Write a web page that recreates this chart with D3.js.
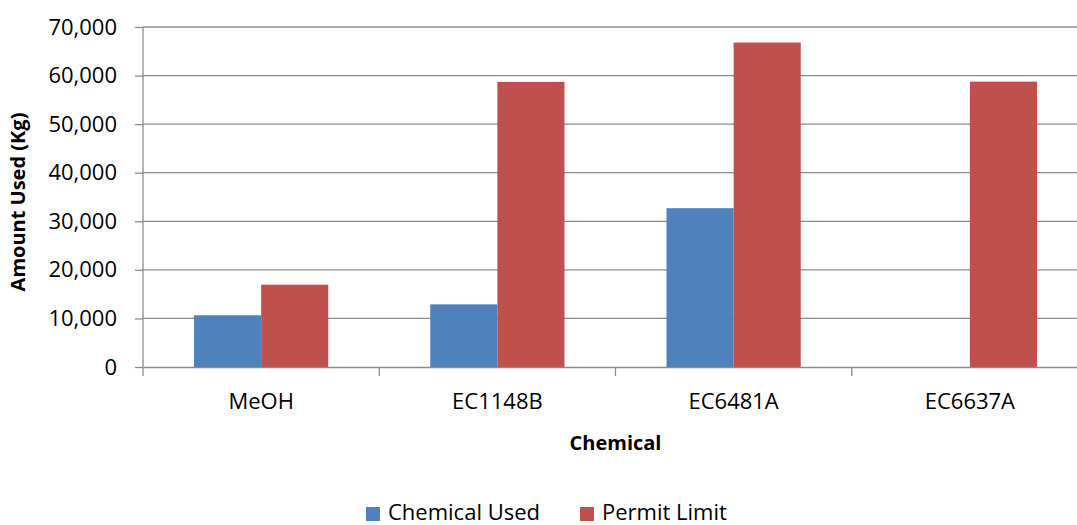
<!DOCTYPE html>
<html>
<head>
<meta charset="utf-8">
<script src="https://cdn.jsdelivr.net/npm/d3@7"></script>
<style>
  body { margin: 0; background: #fff; }
  svg { font-family: "Open Sans", sans-serif; display: block; }
</style>
</head>
<body>
<div id="chart"></div>
<script>
// chart values
const categories = ["MeOH", "EC1148B", "EC6481A", "EC6637A"];
const seriesNames = ["Chemical Used", "Permit Limit"];
const chemicalUsed = [10650, 12900, 32700, 0];
const permitLimit = [16950, 58700, 66800, 58750];
const yTicks = [0, 10000, 20000, 30000, 40000, 50000, 60000, 70000];
const colors = ["#4F81BD", "#C0504D"];

const data = categories.map((c, i) => ({
    category: c,
    values: [chemicalUsed[i], permitLimit[i]]
}));

// layout
const margin = {top: 27, left: 143};
const width = 945;   // plot runs a little past the right edge, like the original
const height = 340;

const svg = d3.select("#chart").append("svg")
    .attr("width", 1077)
    .attr("height", 525);

const g = svg.append("g")
    .attr("transform", `translate(${margin.left},${margin.top})`);

const x = d3.scaleBand()
    .domain(categories)
    .range([0, width])
    .paddingInner(0)
    .paddingOuter(0);

const xInner = d3.scaleBand()
    .domain(seriesNames)
    .range([0, x.bandwidth()])
    .paddingInner(0)
    .paddingOuter(0.76);

const y = d3.scaleLinear()
    .domain([0, 70000])
    .range([height, 0]);

// gridlines
g.append("g")
    .selectAll("line")
    .data(yTicks.slice(1))
    .enter()
    .append("line")
    .attr("x1", 0)
    .attr("x2", width)
    .attr("y1", d => y(d))
    .attr("y2", d => y(d))
    .attr("stroke", "#8c8c8c")
    .attr("stroke-width", 1.3);

// bars
const groups = g.selectAll(".cat")
    .data(data)
    .enter()
    .append("g")
    .attr("transform", d => `translate(${x(d.category)},0)`);

groups.selectAll("rect")
    .data(d => d.values.map((v, i) => ({name: seriesNames[i], value: v, i: i})))
    .enter()
    .append("rect")
    .attr("x", d => xInner(d.name))
    .attr("y", d => y(d.value))
    .attr("width", xInner.bandwidth())
    .attr("height", d => height - y(d.value))
    .attr("fill", d => colors[d.i]);

// y axis
const yAxis = g.append("g")
    .call(d3.axisLeft(y).tickValues(yTicks).tickSize(8).tickSizeOuter(0)
        .tickFormat(d3.format(",")));
yAxis.select(".domain").attr("stroke", "#8c8c8c").attr("stroke-width", 1.3)
    .attr("d", `M0,0V${height + 9}`);
yAxis.selectAll(".tick line").attr("stroke", "#8c8c8c").attr("stroke-width", 1.3);
yAxis.selectAll(".tick text")
    .attr("x", -26)
    .attr("font-size", 22)
    .attr("font-family", "Open Sans")
    .attr("fill", "#000");

// x axis
const xAxis = g.append("g")
    .attr("transform", `translate(0,${height})`)
    .call(d3.axisBottom(x).tickSize(0).tickSizeOuter(0));
xAxis.select(".domain").attr("stroke", "#8c8c8c").attr("stroke-width", 1.3);
xAxis.selectAll(".tick text")
    .attr("y", 26)
    .attr("dy", "0.71em")
    .attr("font-size", 22)
    .attr("font-family", "Open Sans")
    .attr("fill", "#000");

// category boundary ticks
g.append("g")
    .selectAll("line")
    .data(categories.slice(1))
    .enter()
    .append("line")
    .attr("x1", d => x(d))
    .attr("x2", d => x(d))
    .attr("y1", height)
    .attr("y2", height + 9)
    .attr("stroke", "#8c8c8c")
    .attr("stroke-width", 1.3);

// axis titles
svg.append("text")
    .attr("transform", `translate(25,${margin.top + height / 2 + 5}) rotate(-90)`)
    .attr("text-anchor", "middle")
    .attr("font-size", 20)
    .attr("font-weight", "bold")
    .text("Amount Used (Kg)");

svg.append("text")
    .attr("x", margin.left + width / 2)
    .attr("y", 450)
    .attr("text-anchor", "middle")
    .attr("font-size", 20)
    .attr("font-weight", "bold")
    .text("Chemical");

// legend
const legendX = [366, 580];
const legend = svg.append("g");
seriesNames.forEach((name, i) => {
    legend.append("rect")
        .attr("x", legendX[i])
        .attr("y", 507)
        .attr("width", 14)
        .attr("height", 14)
        .attr("fill", colors[i]);
    legend.append("text")
        .attr("x", legendX[i] + 22)
        .attr("y", 520)
        .attr("font-size", 22)
        .text(name);
});
</script>
</body>
</html>
